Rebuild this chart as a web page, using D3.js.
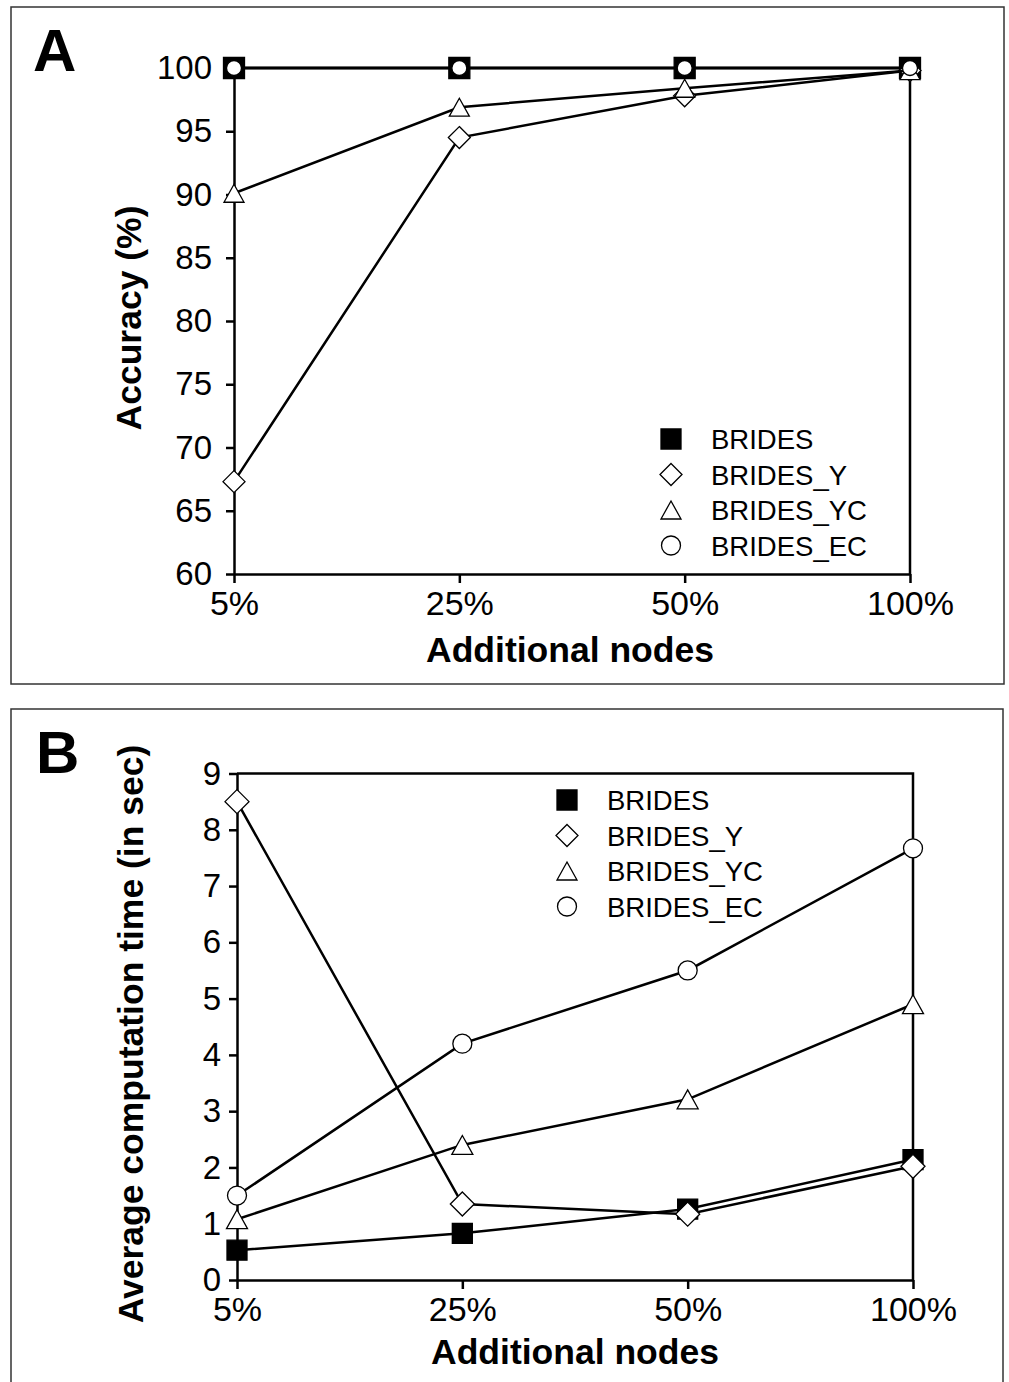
<!DOCTYPE html>
<html>
<head>
<meta charset="utf-8">
<script src="https://cdn.jsdelivr.net/npm/d3@7"></script>
<style>
  body { margin: 0; background: #fff; }
  svg { display: block; font-family: "Liberation Sans", Arial, sans-serif; }
</style>
</head>
<body>
<svg id="chart" width="1009" height="1382"></svg>
<script>
// categories and series
var categories = ['5%', '25%', '50%', '100%'];
var seriesNames = ['BRIDES', 'BRIDES_Y', 'BRIDES_YC', 'BRIDES_EC'];

// panel A: accuracy (%)
var accBrides = [100, 100, 100, 100];
var accBridesY = [67.3, 94.5, 97.8, 99.8];
var accBridesYC = [90.1, 96.9, 98.4, 99.8];
var accBridesEC = [100, 100, 100, 100];
var accTicks = [60, 65, 70, 75, 80, 85, 90, 95, 100];

// panel B: average computation time (sec)
var timeBrides = [0.53, 0.83, 1.26, 2.14];
var timeBridesY = [8.5, 1.35, 1.17, 2.02];
var timeBridesYC = [1.08, 2.4, 3.21, 4.9];
var timeBridesEC = [1.5, 4.2, 5.5, 7.67];
var timeTicks = [0, 1, 2, 3, 4, 5, 6, 7, 8, 9];

// custom marker shapes, size = half width
var shapes = {
  square: { draw: function(c, r) { c.rect(-r, -r, 2 * r, 2 * r); } },
  diamond: { draw: function(c, r) { c.moveTo(0, -r); c.lineTo(r, 0); c.lineTo(0, r); c.lineTo(-r, 0); c.closePath(); } },
  triangle: { draw: function(c, r) { var h = r * 0.9; c.moveTo(0, -h); c.lineTo(r, h); c.lineTo(-r, h); c.closePath(); } },
  circle: { draw: function(c, r) { c.moveTo(r, 0); c.arc(0, 0, r, 0, 2 * Math.PI); } }
};
var markerType = ['square', 'diamond', 'triangle', 'circle'];
var markerFill = ['#000', '#fff', '#fff', '#fff'];

var svg = d3.select('#chart');
svg.append('rect').attr('width', 1009).attr('height', 1382).attr('fill', '#fff');

function drawPanel(opt) {
  var g = svg.append('g');

  // outer box
  g.append('rect')
    .attr('x', opt.box[0]).attr('y', opt.box[1])
    .attr('width', opt.box[2]).attr('height', opt.box[3])
    .attr('fill', 'none').attr('stroke', '#333').attr('stroke-width', 1.5);

  // panel letter
  g.append('text')
    .attr('x', opt.letterPos[0]).attr('y', opt.letterPos[1])
    .attr('font-size', 60).attr('font-weight', 'bold')
    .text(opt.letter);

  var x = d3.scalePoint().domain(categories).range(opt.xRange);
  var y = d3.scaleLinear().domain(opt.yDomain).range(opt.yRange);

  // plot frame (top and right)
  g.append('path')
    .attr('d', 'M' + opt.xRange[0] + ',' + opt.yRange[1] + 'H' + opt.xRange[1] + 'V' + opt.yRange[0])
    .attr('fill', 'none').attr('stroke', '#000').attr('stroke-width', 2.5);

  // axes
  var yAxis = g.append('g')
    .attr('transform', 'translate(' + opt.xRange[0] + ',0)')
    .call(d3.axisLeft(y).tickValues(opt.ticks).tickSize(8).tickPadding(opt.yPad).tickSizeOuter(0));
  var xAxis = g.append('g')
    .attr('transform', 'translate(0,' + opt.yRange[0] + ')')
    .call(d3.axisBottom(x).tickSize(9).tickPadding(8).tickSizeOuter(0));
  [xAxis, yAxis].forEach(function(a) {
    a.select('.domain').attr('stroke', '#000').attr('stroke-width', 2.5);
    a.selectAll('.tick line').attr('stroke', '#000').attr('stroke-width', 2.5);
    a.selectAll('.tick text').attr('fill', '#000')
      .attr('font-family', '"Liberation Sans", Arial, sans-serif');
  });
  yAxis.selectAll('.tick text').attr('font-size', 33);
  xAxis.selectAll('.tick text').attr('font-size', 34);

  // axis titles
  g.append('text')
    .attr('transform', 'translate(' + opt.yTitlePos[0] + ',' + opt.yTitlePos[1] + ') rotate(-90)')
    .attr('text-anchor', 'middle')
    .attr('font-size', 35.5).attr('font-weight', 'bold')
    .text(opt.yTitle);
  g.append('text')
    .attr('x', opt.xTitlePos[0]).attr('y', opt.xTitlePos[1])
    .attr('text-anchor', 'middle')
    .attr('font-size', 35.5).attr('font-weight', 'bold')
    .text('Additional nodes');

  // series: line then markers
  var line = d3.line()
    .x(function(d, i) { return x(categories[i]); })
    .y(function(d) { return y(d); });
  opt.series.forEach(function(values, s) {
    g.append('path')
      .datum(values)
      .attr('d', line)
      .attr('fill', 'none').attr('stroke', '#000').attr('stroke-width', 2.5);
    g.selectAll('path.m' + s)
      .data(values)
      .enter()
      .append('path')
        .attr('class', 'm' + s)
        .attr('transform', function(d, i) { return 'translate(' + x(categories[i]) + ',' + y(d) + ')'; })
        .attr('d', d3.symbol().type(shapes[markerType[s]]).size(opt.markerR[s]))
        .attr('fill', markerFill[s]).attr('stroke', '#000').attr('stroke-width', 1.3);
  });

  // legend
  var lg = g.append('g');
  seriesNames.forEach(function(name, s) {
    var ly = opt.legendPos[1] + s * 35.5;
    lg.append('path')
      .attr('transform', 'translate(' + opt.legendPos[0] + ',' + ly + ')')
      .attr('d', d3.symbol().type(shapes[markerType[s]]).size([10, 11, 10, 9.5][s]))
      .attr('fill', markerFill[s]).attr('stroke', '#000').attr('stroke-width', 1.3);
    lg.append('text')
      .attr('x', opt.legendPos[0] + 40).attr('y', ly + 10)
      .attr('font-size', 27.5)
      .text(name);
  });
}

drawPanel({
  box: [11, 7, 993, 677],
  letter: 'A', letterPos: [33, 71],
  xRange: [234, 910], yRange: [574, 68], yDomain: [60, 100],
  ticks: accTicks, yPad: 14,
  yTitle: 'Accuracy (%)', yTitlePos: [141, 318],
  xTitlePos: [570, 662],
  series: [accBrides, accBridesY, accBridesYC, accBridesEC],
  markerR: [10.5, 11, 10, 7.5],
  legendPos: [671, 439]
});

drawPanel({
  box: [11, 709, 992, 680],
  letter: 'B', letterPos: [36, 773],
  xRange: [237, 913], yRange: [1280, 773.5], yDomain: [0, 9],
  ticks: timeTicks, yPad: 8,
  yTitle: 'Average computation time (in sec)', yTitlePos: [143, 1034],
  xTitlePos: [575, 1364],
  series: [timeBrides, timeBridesY, timeBridesYC, timeBridesEC],
  markerR: [10, 12, 10.5, 9.5],
  legendPos: [567, 800]
});
</script>
</body>
</html>
